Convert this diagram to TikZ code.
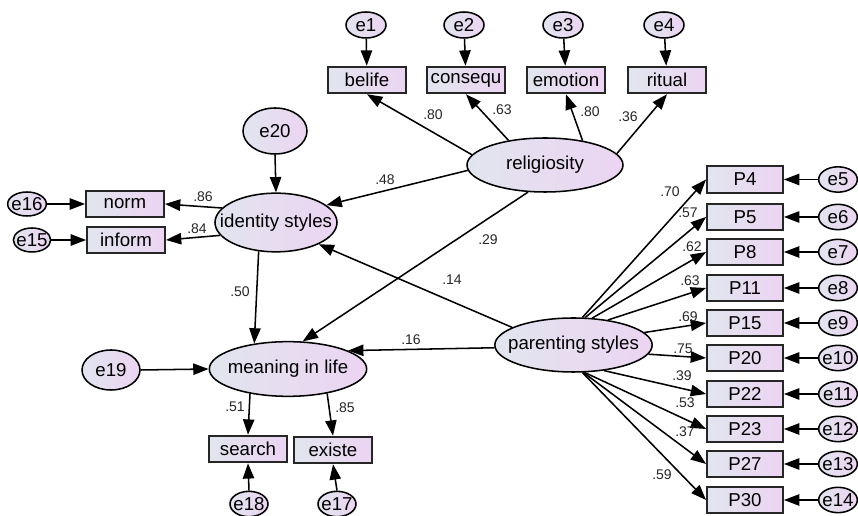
\documentclass[tikz,border=0pt]{standalone}
\usepackage{fontspec}
\setmainfont{Liberation Sans}
\usetikzlibrary{arrows.meta,shapes.geometric}
\definecolor{fillL}{RGB}{225,229,238}
\definecolor{fillR}{RGB}{236,212,242}
\begin{document}
\begin{tikzpicture}[x=0.75pt,y=-0.75pt,
  lat/.style={ellipse,draw=black,line width=1.15pt,left color=fillL,right color=fillR,inner sep=0pt,font=\fontsize{14}{16}\selectfont},
  obs/.style={rectangle,draw=black!85,line width=1.4pt,left color=fillL,right color=fillR,inner sep=0pt,minimum width=58.5pt,minimum height=20pt,font=\fontsize{14}{16}\selectfont},
  err/.style={ellipse,draw=black,line width=1.15pt,left color=fillL,right color=fillR,inner sep=0pt,minimum width=30pt,minimum height=19.5pt,font=\fontsize{14}{16}\selectfont},
  pth/.style={-{Triangle[length=11.5pt,width=8.5pt]},line width=1.15pt},
  lbl/.style={font=\fontsize{10.5}{12}\selectfont,text=black!85,inner sep=0pt}
]
\useasboundingbox (0,0) rectangle (858,516);
% latent variables
\node[lat,minimum width=117pt,minimum height=40.5pt] (relig) at (545,165) {\makebox[0pt]{religiosity}};
\node[lat,minimum width=91.5pt,minimum height=44pt] (ident) at (276,222.5) {\makebox[0pt]{identity styles}};
\node[lat,minimum width=118pt,minimum height=41pt] (mean) at (288,369) {\makebox[0pt]{meaning in life}};
\node[lat,minimum width=118pt,minimum height=40.5pt] (par) at (573.5,345) {\makebox[0pt]{parenting styles}};
% top indicators
\node[obs] (belife) at (367,80) {belife};
\node[obs] (consequ) at (466,80) {\makebox[0pt]{consequ}};
\node[obs] (emotion) at (566,80) {emotion};
\node[obs] (ritual) at (667,80) {ritual};
\node[err] (e1) at (366,25) {e1};
\node[err] (e2) at (464,25) {e2};
\node[err] (e3) at (563,25) {e3};
\node[err] (e4) at (664,25) {e4};
% left indicators
\node[obs] (norm) at (125,204) {norm};
\node[obs] (inform) at (126,240) {inform};
\node[err,minimum width=29pt,minimum height=18pt] (e16) at (27,204) {\makebox[0pt]{e16}};
\node[err,minimum width=28pt,minimum height=18pt] (e15) at (32,240) {\makebox[0pt]{e15}};
\node[err,minimum width=48pt,minimum height=34.5pt] (e20) at (275,131) {e20};
% bottom
\node[err,minimum width=43.5pt,minimum height=30pt] (e19) at (111,370) {e19};
\node[obs] (search) at (248,449) {search};
\node[obs] (existe) at (333,450) {existe};
\node[err,minimum width=28.5pt,minimum height=19pt] (e18) at (249,504) {\makebox[0pt]{e18}};
\node[err,minimum width=28.5pt,minimum height=19pt] (e17) at (337,504) {\makebox[0pt]{e17}};
% P indicators
\foreach \nm/\yy/\en in {P4/179.5/e5,P5/217/e6,P8/252/e7,P11/288/e8,P15/323/e9,P20/358/e10,P22/394/e11,P23/429/e12,P27/464/e13,P30/500/e14}{
  \node[obs,minimum width=57pt] (\nm) at (745,\yy) {\nm};
  \node[err,minimum width=29pt,minimum height=19pt] (\en) at (838,\yy) {\makebox[0pt]{\en}};
  \draw[pth] (\en.west) -- (\nm.east);
}
% error arrows
\draw[pth] (e1) -- (belife);
\draw[pth] (e2) -- (consequ);
\draw[pth] (e3) -- (emotion);
\draw[pth] (e4) -- (ritual);
\draw[pth] (e16.east) -- (norm.west);
\draw[pth] (e15.east) -- (inform.west);
\draw[pth] (e20.south) -- (ident.north);
\draw[pth] (e19.east) -- (mean.west);
\draw[pth] (e18.north) -- (search.south);
\draw[pth] (e17.north) -- (existe.south);
% religiosity paths
\draw[pth] (relig.172) -- (belife.south);
\draw[pth] (relig.146) -- (consequ.south);
\draw[pth] (relig.33) -- (emotion.south);
\draw[pth] (relig.9.5) -- (ritual.south);
\draw[pth] (relig.184.5) -- (ident.19.7);
\draw[pth] (relig.238.7) -- (mean.62.6);
% identity paths
\draw[pth] (ident.165.8) -- (norm.east);
\draw[pth] (ident.193) -- (inform.east);
\draw[pth] (ident.239) -- (mean.143);
% meaning paths
\draw[pth] (mean.213) -- (search.north);
\draw[pth] (mean.328.5) -- (existe.north);
% parenting paths
\draw[pth] (par.164) -- (ident.333);
\draw[pth] (par.182) -- (mean.17);
\draw[pth] (par.72) -- (P4.west);
\draw[pth] (par.67) -- (P5.west);
\draw[pth] (par.55) -- (P8.west);
\draw[pth] (par.36) -- (P11.west);
\draw[pth] (par.10) -- (P15.west);
\draw[pth] (par.353) -- (P20.west);
\draw[pth] (par.320) -- (P22.west);
\draw[pth] (par.292) -- (P23.west);
\draw[pth] (par.290) -- (P27.west);
\draw[pth] (par.288) -- (P30.west);
% labels
\node[lbl] (l1) at (433,115) {.80};
\node[lbl] (l2) at (502,110) {.63};
\node[lbl] (l3) at (590,112) {.80};
\node[lbl] (l4) at (628,117) {.36};
\node[lbl] (l5) at (385,180) {.48};
\node[lbl] (l6) at (203,197) {.86};
\node[lbl] (l7) at (197,229) {.84};
\node[lbl] (l8) at (240,292) {.50};
\node[lbl] (l9) at (488,240) {.29};
\node[lbl] (l10) at (452,280) {.14};
\node[lbl] (l11) at (411,340) {.16};
\node[lbl] (l12) at (235,407) {.51};
\node[lbl] (l13) at (345,408) {.85};
\node[lbl] (l14) at (670,192) {.70};
\node[lbl] (l15) at (688,213) {.57};
\node[lbl] (l16) at (692,247) {.62};
\node[lbl] (l17) at (690,281) {.63};
\node[lbl] (l18) at (688,317) {.69};
\node[lbl] (l19) at (683,349) {.75};
\node[lbl] (l20) at (682,376) {.39};
\node[lbl] (l21) at (685,403) {.53};
\node[lbl] (l22) at (685,432) {.37};
\node[lbl] (l23) at (662,475) {.59};
\end{tikzpicture}
\end{document}
